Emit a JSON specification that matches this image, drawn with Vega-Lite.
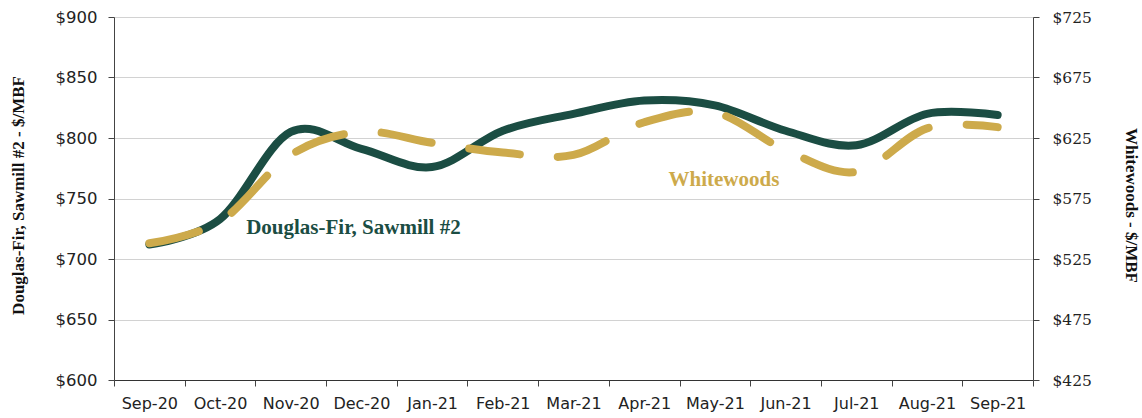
{
  "$schema": "https://vega.github.io/schema/vega-lite/v6.json",
  "width": 919,
  "height": 363,
  "autosize": "none",
  "padding": {"left": 114, "top": 17, "right": 109, "bottom": 38},
  "background": "white",
  "config": {
    "view": {"stroke": null},
    "axis": {
      "domainColor": "#444",
      "tickColor": "#444",
      "tickSize": 6,
      "labelColor": "#222",
      "titleColor": "#111"
    }
  },
  "datasets": {
    "prices": [
      {"month": "Sep-20", "douglas_fir": 712, "whitewoods": 538},
      {"month": "Oct-20", "douglas_fir": 733, "whitewoods": 556},
      {"month": "Nov-20", "douglas_fir": 805, "whitewoods": 611},
      {"month": "Dec-20", "douglas_fir": 791, "whitewoods": 630},
      {"month": "Jan-21", "douglas_fir": 776, "whitewoods": 621},
      {"month": "Feb-21", "douglas_fir": 806, "whitewoods": 613},
      {"month": "Mar-21", "douglas_fir": 820, "whitewoods": 611},
      {"month": "Apr-21", "douglas_fir": 831, "whitewoods": 638},
      {"month": "May-21", "douglas_fir": 827, "whitewoods": 646},
      {"month": "Jun-21", "douglas_fir": 806, "whitewoods": 615},
      {"month": "Jul-21", "douglas_fir": 794, "whitewoods": 597},
      {"month": "Aug-21", "douglas_fir": 820, "whitewoods": 633},
      {"month": "Sep-21", "douglas_fir": 819, "whitewoods": 634}
    ]
  },
  "layer": [
    {
      "layer": [
        {
          "data": {"name": "prices"},
          "mark": {"type": "line", "interpolate": "cardinal", "color": "#1b4d43", "strokeWidth": 8, "strokeCap": "round", "strokeJoin": "round"},
          "encoding": {
            "x": {
              "field": "month", "type": "ordinal", "bandPosition": 0.5,
              "scale": {"type": "band", "paddingInner": 0, "paddingOuter": 0,
                "domain": ["Sep-20","Oct-20","Nov-20","Dec-20","Jan-21","Feb-21","Mar-21","Apr-21","May-21","Jun-21","Jul-21","Aug-21","Sep-21"]},
              "axis": {"title": null, "tickBand": "extent", "labelAngle": 0, "labelFont": "DejaVu Sans", "labelFontSize": 16, "labelPadding": 9, "grid": false, "domainColor": "#333"}
            },
            "y": {
              "field": "douglas_fir", "type": "quantitative",
              "scale": {"domain": [600, 900], "nice": false, "zero": false},
              "axis": {
                "orient": "left", "values": [600, 650, 700, 750, 800, 850, 900], "format": "$,.0f",
                "labelFont": "DejaVu Sans", "labelFontSize": 16.5, "labelPadding": 11,
                "grid": true, "gridColor": "#a5a5a5", "gridDash": [1, 1], "gridWidth": 1,
                "title": "Douglas-Fir, Sawmill #2 - $/MBF", "titleFont": "Liberation Serif", "titleFontSize": 17, "titleFontWeight": "bold",
                "titleAngle": -90, "titleX": -96, "titleY": 178, "titleAlign": "center", "titleBaseline": "middle"
              }
            }
          }
        },
        {
          "data": {"values": [{"month": "Dec-20", "value": 721, "label": "Douglas-Fir, Sawmill #2"}]},
          "mark": {"type": "text", "font": "Liberation Serif", "fontSize": 21, "fontWeight": "bold", "color": "#1b4d43", "align": "center", "baseline": "alphabetic", "dx": -8},
          "encoding": {
            "x": {"field": "month", "type": "ordinal", "bandPosition": 0.5},
            "y": {"field": "value", "type": "quantitative", "scale": {"domain": [600, 900], "nice": false, "zero": false}},
            "text": {"field": "label"}
          }
        }
      ]
    },
    {
      "layer": [
        {
          "data": {"name": "prices"},
          "mark": {"type": "line", "interpolate": "cardinal", "color": "#cdaa4b", "strokeWidth": 8, "strokeCap": "round", "strokeDash": [51, 38]},
          "encoding": {
            "x": {"field": "month", "type": "ordinal", "bandPosition": 0.5},
            "y": {
              "field": "whitewoods", "type": "quantitative",
              "scale": {"domain": [425, 725], "nice": false, "zero": false},
              "axis": {
                "orient": "right", "values": [425, 475, 525, 575, 625, 675, 725], "format": "$,.0f",
                "labelFont": "DejaVu Serif", "labelFontSize": 15.5, "labelPadding": 13, "grid": false,
                "title": "Whitewoods - $/MBF", "titleFont": "Liberation Serif", "titleFontSize": 17, "titleFontWeight": "bold",
                "titleAngle": 90, "titleX": 97, "titleY": 188, "titleAlign": "center", "titleBaseline": "middle"
              }
            }
          }
        },
        {
          "data": {"values": [{"month": "May-21", "value": 585, "label": "Whitewoods"}]},
          "mark": {"type": "text", "font": "Liberation Serif", "fontSize": 21, "fontWeight": "bold", "color": "#cdaa4b", "align": "center", "baseline": "alphabetic", "dx": 9},
          "encoding": {
            "x": {"field": "month", "type": "ordinal", "bandPosition": 0.5},
            "y": {"field": "value", "type": "quantitative", "scale": {"domain": [425, 725], "nice": false, "zero": false}},
            "text": {"field": "label"}
          }
        }
      ]
    }
  ],
  "resolve": {"scale": {"y": "independent"}}
}
